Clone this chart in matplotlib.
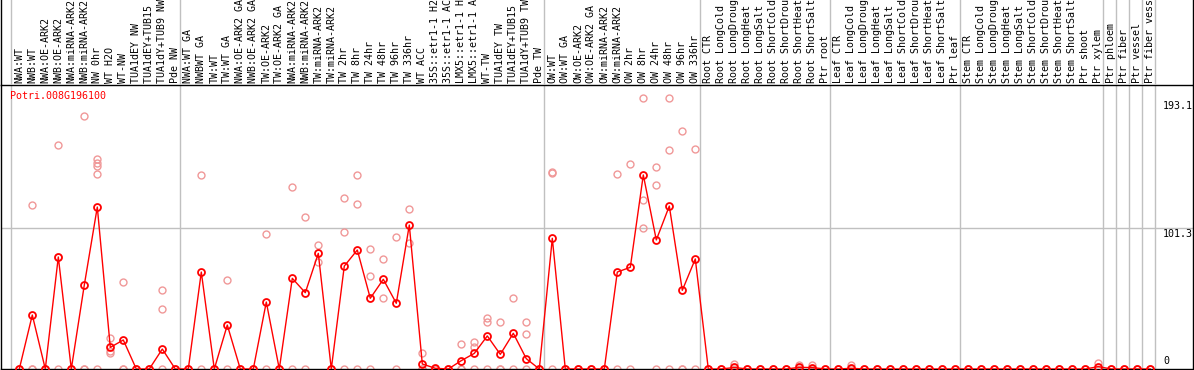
import matplotlib
matplotlib.use("Agg")
import matplotlib.pyplot as plt

# sample labels, in plot order
samples = [
    "NWA:WT", "NWB:WT", "NWA:OE-ARK2", "NWB:OE-ARK2", "NWA:miRNA-ARK2", "NWB:miRNA-ARK2",
    "NW 0hr", "WT H2O", "WT-NW", "TUA1dEY NW", "TUA1dEY+TUB15 NW", "TUA1dY+TUB9 NW", "Pde NW",
    "NWA:WT GA", "NWBWT GA", "TW:WT", "TW:WT GA", "NWA:OE-ARK2 GA", "NWB:OE-ARK2 GA",
    "TW:OE-ARK2", "TW:OE-ARK2 GA", "NWA:miRNA-ARK2", "NWB:miRNA-ARK2", "TW:miRNA-ARK2",
    "TW:miRNA-ARK2", "TW 2hr", "TW 8hr", "TW 24hr", "TW 48hr", "TW 96hr", "TW 336hr",
    "WT ACC", "35S::etr1-1 H2O", "35S::etr1-1 ACC", "LMX5::etr1-1 H2O", "LMX5::etr1-1 ACC",
    "WT-TW", "TUA1dEY TW", "TUA1dEY+TUB15 TW", "TUA1dY+TUB9 TW", "Pde TW",
    "OW:WT", "OW:WT GA", "OW:OE-ARK2", "OW:OE-ARK2 GA", "OW:miRNA-ARK2", "OW:miRNA-ARK2",
    "OW 2hr", "OW 8hr", "OW 24hr", "OW 48hr", "OW 96hr", "OW 336hr",
    "Root CTR", "Root LongCold", "Root LongDrought", "Root LongHeat", "Root LongSalt",
    "Root ShortCold", "Root ShortDrought", "Root ShortHeat", "Root ShortSalt", "Ptr root",
    "Leaf CTR", "Leaf LongCold", "Leaf LongDrought", "Leaf LongHeat", "Leaf LongSalt",
    "Leaf ShortCold", "Leaf ShortDrought", "Leaf ShortHeat", "Leaf ShortSalt", "Ptr leaf",
    "Stem CTR", "Stem LongCold", "Stem LongDrought", "Stem LongHeat", "Stem LongSalt",
    "Stem ShortCold", "Stem ShortDrought", "Stem ShortHeat", "Stem ShortSalt", "Ptr shoot",
    "Ptr xylem", "Ptr phloem", "Ptr fiber", "Ptr vessel", "Ptr fiber vessel",
]

# group starts (index of first sample in each block)
group_starts = [0, 13, 41, 53, 63, 73, 84, 85, 86, 87, 88]

# mean expression per sample
means = [
    0, 38.7, 0, 80.3, 0, 60.2, 116.1, 15.5, 20.8, 0, 0, 14.3, 0,
    0, 69.5, 0, 31.5, 0, 0, 48.0, 0, 65.0, 54.7, 82.9, 0, 73.8, 85.3,
    50.7, 64.3, 47.1, 103.2, 3.6, 0.5, 0, 6.0, 11.2, 23.7, 10.5, 25.6, 7.4, 0,
    93.7, 0, 0, 0, 0, 69.5, 72.9, 139.1, 92.5, 116.8, 56.4, 78.9,
    0, 0, 1.1, 0, 0, 0, 0, 1.2, 1.0, 0,
    0, 0.5, 0, 0, 0, 0, 0, 0, 0, 0,
    0, 0, 0, 0, 0, 0, 0, 0, 0, 0, 1.7,
    0, 0, 0, 0,
]

# replicate values (only samples with non-zero replicates listed)
replicates = {
    1: [117.6, 0, 0], 3: [160.3, 80.6, 0], 5: [181.1, 0, 0],
    6: [150.3, 147.5, 145.5, 139.5, 0], 7: [22.0, 13.1, 11.2], 8: [62.1, 0.3, 0],
    11: [56.6, 43.0, 0], 14: [139.0, 0], 16: [63.6, 0], 19: [96.5, 0],
    21: [130.5, 0], 22: [108.7, 0], 23: [88.9, 76.9], 25: [122.4, 98.0, 0],
    26: [138.8, 118.0, 0], 27: [85.8, 66.7, 0], 28: [78.6, 50.7], 29: [94.4, 0],
    30: [114.7, 90.5], 31: [11.2, 0, 0], 34: [17.9, 0, 0], 35: [19.6, 15.5, 0],
    36: [36.3, 33.5, 0], 37: [33.5, 0, 0], 38: [50.7, 0], 39: [33.5, 24.9, 0],
    41: [141.4, 140.3, 0], 46: [139.8, 0], 47: [147.0, 0],
    48: [194.3, 121.1, 100.8], 49: [144.6, 131.7, 0], 50: [194.3, 157.0, 0],
    51: [170.4, 0, 0], 52: [157.7, 0], 55: [3.4, 0], 60: [2.9, 0], 61: [2.9, 0],
    64: [2.9, 0], 83: [4.1, 0],
}

gene = "Potri.008G196100"
ytick_vals = [193.1, 101.3, 0]

W, H = 1194, 370
fig = plt.figure(figsize=(W / 100, H / 100), dpi=100)
mono = "DejaVu Sans Mono"

# pixel mapping: x_px = 19.3 + 13 * i, y from 369 (0) to 85 (top)
x0, dx = 19.3, 13.0
xlim = ((1 - x0) / dx, (1193 - x0) / dx)
ppu = 1.395
ylim = (0, (369 - 85) / ppu)

ax = fig.add_axes([1 / W, 1 / H, 1192 / W, 284 / H])
hx = fig.add_axes([1 / W, 285 / H, 1192 / W, 85 / H])

for a in (ax, hx):
    a.set_xlim(*xlim)
    a.set_xticks([])
    a.set_yticks([])
    for s in a.spines.values():
        s.set_linewidth(1.0)
        s.set_color("black")
    for g in group_starts:
        a.axvline(g - 0.64, color="#c0c0c0", lw=1.0, zorder=0)

hx.set_ylim(0, 85)
hx.spines["top"].set_visible(False)
hx.spines["bottom"].set_visible(False)
hx.patch.set_alpha(0)

ax.set_ylim(*ylim)
ax.axhline(101.3, color="#c0c0c0", lw=1.0, zorder=0)

for i, lab in enumerate(samples):
    hx.text(i, 2, lab, rotation=90, ha="center", va="bottom",
            family=mono, fontsize=7.2, color="black", clip_on=False)

# replicate points
rx, ry = [], []
for i in range(len(samples)):
    for v in replicates.get(i, [0, 0]):
        rx.append(i)
        ry.append(v)
ax.plot(rx, ry, linestyle="none", marker="o", markersize=5, mfc="none",
        mec="#f09898", mew=1.0, zorder=2)

# mean line
xs = list(range(len(means)))
ax.plot(xs, means, color="red", lw=1.0, marker="o", markersize=5,
        mfc="none", mec="red", mew=1.3, zorder=3)

ax.text((10 - x0) / dx, (369 - 96) / ppu, gene, color="red", family=mono,
        fontsize=7.2, ha="left", va="center")

tx = (1163 - x0) / dx
for v in ytick_vals:
    if v == 0:
        ax.text(tx, 2, "0", family=mono, fontsize=7.2, ha="left", va="bottom")
    else:
        ax.text(tx, v - 1.0, f"{v}", family=mono, fontsize=7.2, ha="left", va="top")

fig.savefig("out.png", dpi=100)
